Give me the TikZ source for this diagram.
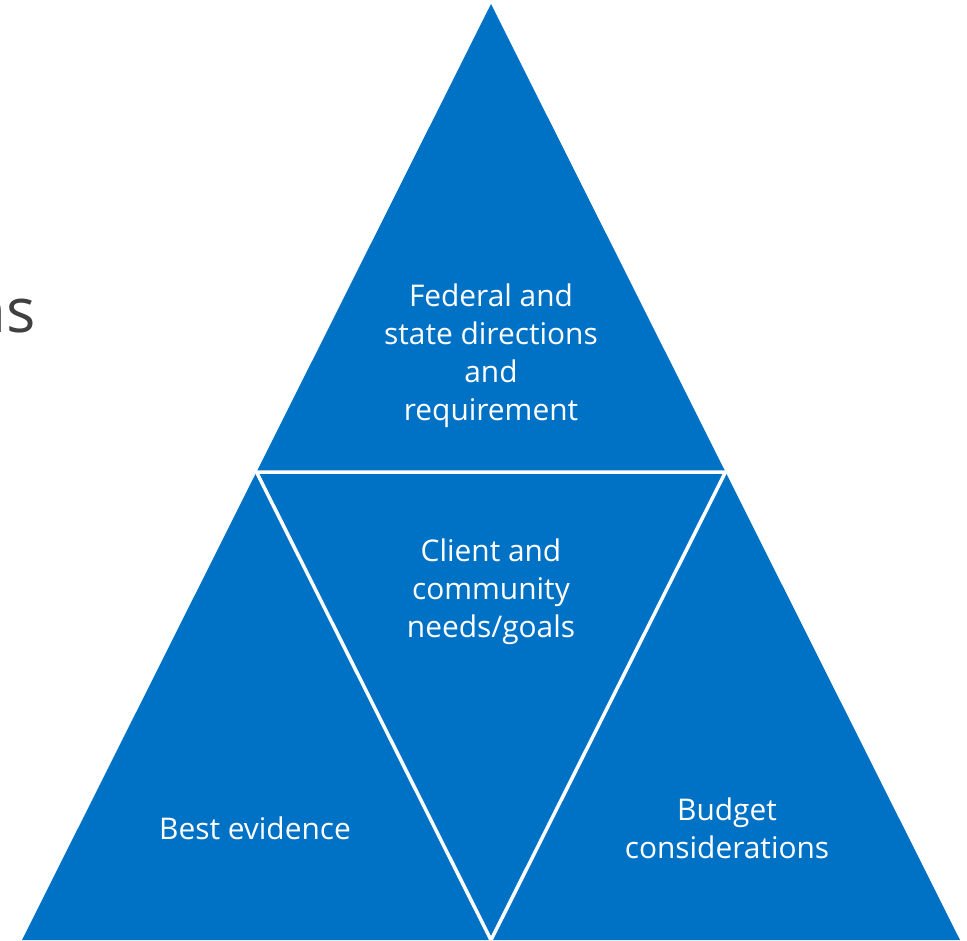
\documentclass[tikz,border=0pt]{standalone}
\usepackage{fontspec}
\setmainfont{Open Sans}
\usetikzlibrary{calc}
\definecolor{pyrblue}{RGB}{0,114,198}
\definecolor{ttlgray}{RGB}{64,64,64}
\begin{document}
\begin{tikzpicture}[x=0.02cm,y=-0.02cm,line join=round,
    lbl/.style={text=white,align=center,font=\fontsize{17}{21.6}\selectfont}]
    \useasboundingbox (0,0) rectangle (967,940);
    % outer corners and edge midpoints
    \coordinate (T) at (491,4);
    \coordinate (L) at (22,940);
    \coordinate (R) at (960,940);
    \coordinate (ML) at ($(T)!0.5!(L)$);
    \coordinate (MR) at ($(T)!0.5!(R)$);
    \coordinate (MB) at ($(L)!0.5!(R)$);
    \fill[pyrblue] (T)--(L)--(R)--cycle;
    \draw[white,line width=2pt] (ML)--(MR)--(MB)--cycle;
    % texts
    \node[anchor=base east,inner sep=0pt,text=ttlgray,font=\fontsize{35}{42}\selectfont] (ttl) at (36,332) {ns};
    \node[lbl] (fed) at (491,356) {Federal and\\state directions\\and\\requirement};
    \node[lbl] (cli) at (491,592) {Client and\\community\\needs/goals};
    \node[lbl] (best) at (255,828) {Best evidence};
    \node[lbl] (bud) at (727,828) {Budget\\considerations};
\end{tikzpicture}
\end{document}
